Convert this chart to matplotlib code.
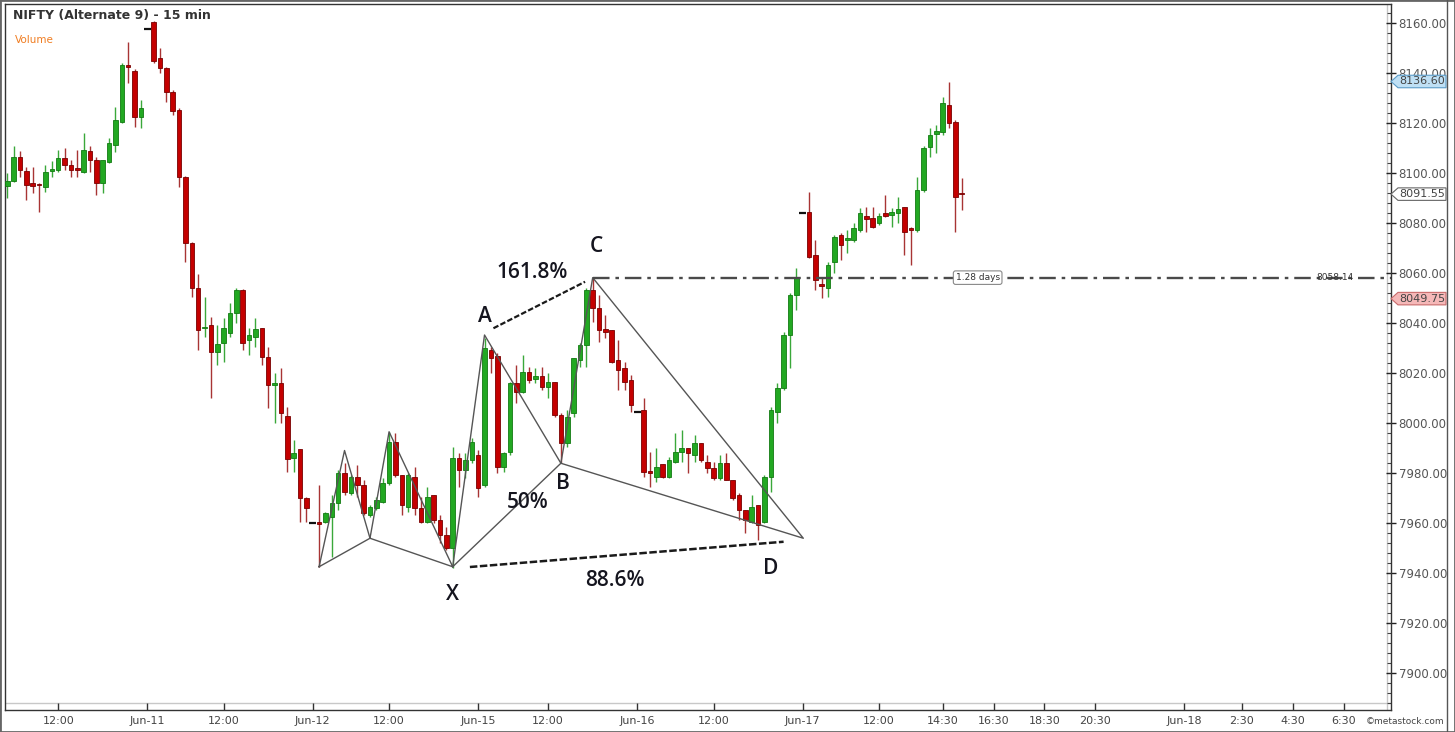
import matplotlib.pyplot as plt
import matplotlib.transforms as mtransforms
import numpy as np
from matplotlib.lines import Line2D
from matplotlib.patches import Polygon, Rectangle
from matplotlib.ticker import FormatStrFormatter

plt.rcParams['font.family'] = ['DejaVu Sans']

# 15 min bars, tail of Jun-10 .. Jun-17 (one entry per bar)
opens = [8095, 8097, 8106.5, 8100.8, 8095.9, 8095.4, 8094.5, 8101, 8101.2, 8105.9, 8103.2, 8101.8, 8100.5, 8108.9, 8105.2, 8095.9, 8104.5, 8111.2, 8120.5, 8143.2, 8140.9, 8122.5,
         8157.5, 8160.5, 8145.9, 8141.9, 8132.5, 8125.2, 8098.5, 8071.9, 8053.9, 8037.9, 8039.2, 8028.5, 8031.9, 8035.9, 8043.9, 8053.2, 8033.2, 8034.5, 8037.9, 8026.5, 8015.2, 8015.9, 8002.8, 7985.9, 7989.5, 7969.9,
         7960, 7960.5, 7960.5, 7962.5, 7967.9, 7979.9, 7971.9, 7978.5, 7975.2, 7963.2, 7965.9, 7968.5, 7975.9, 7992.5, 7979.2, 7966.5, 7978.5, 7965.9, 7960.5, 7971.2, 7961.2, 7955.2, 7949.9, 7985.9, 7981.2, 7985.2,
         7987.2, 7975.2, 8029.2, 8026.8, 7982.5, 7988.5, 8015.9, 8012.5, 8020.5, 8017.5, 8018.8, 8014.5, 8016.5, 8003.2, 7991.9, 8003.9, 8025.2, 8031.2, 8053.2, 8045.9, 8037.5, 8037.2, 8025.2, 8021.9, 8017.2,
         8004.5, 8005.2, 7980.8, 7978.5, 7983.5, 7978.5, 7984.5, 7988.5, 7989.9, 7987.2, 7991.9, 7984.5, 7981.9, 7977.9, 7984.1, 7977.2, 7971.2, 7965.2, 7960.5, 7967.2, 7960.5, 7978.5, 8004.5, 8013.9, 8035.2, 8051.2,
         8084.1, 8084.5, 8067.2, 8055.6, 8053.9, 8064.5, 8075.2, 8073.2, 8073.2, 8077.2, 8082.8, 8081.9, 8079.9, 8083.9, 8083.2, 8083.9, 8086.5, 8078.1, 8077.2, 8093.2, 8110.5, 8115.7, 8116.5, 8127.2, 8120.5, 8091.8]
highs = [8100, 8110.8, 8109, 8102.5, 8102.5, 8096, 8103.2, 8105, 8109.2, 8109.9, 8105.2, 8109.2, 8115.9, 8110.8, 8106.5, 8105.2, 8113.9, 8126.3, 8143.9, 8152.5, 8141.5, 8129.2,
         8157.5, 8161, 8149.9, 8142.5, 8133.2, 8125.9, 8099, 8072.5, 8059.6, 8050.5, 8042.5, 8039.2, 8041.9, 8047.9, 8053.9, 8053.5, 8037.9, 8041.9, 8037.9, 8030.5, 8019.9, 8021.9, 8006.5, 7993.2, 7989.5, 7970.5,
         7960, 7975.2, 7964.5, 7971.2, 7981.2, 7983.9, 7979.2, 7983.2, 7977.2, 7967.2, 7970.5, 7977.9, 7996.5, 7995.9, 7979.2, 7979.9, 7982.5, 7970.5, 7974.5, 7971.2, 7963.2, 7958.5, 7990.5, 7987.9, 7987.9, 7993.9,
         7989.2, 8033.9, 8030.5, 8027.9, 7988.5, 8016.5, 8023.2, 8027.2, 8022.5, 8021.9, 8022.5, 8019.9, 8016.5, 8003.9, 8005.2, 8025.9, 8031.9, 8053.9, 8058.1, 8051.2, 8043.2, 8037.2, 8033.2, 8024.5, 8019.2,
         8004.5, 8009.9, 7988.5, 7989.9, 7983.5, 7986.5, 7995.9, 7997.2, 7989.9, 7995.2, 7991.9, 7987.2, 7984.5, 7987.2, 7987.9, 7977.2, 7971.9, 7965.2, 7971.2, 7967.2, 7979.2, 8006.5, 8015.9, 8036.5, 8051.9, 8061.9,
         8084.1, 8092.5, 8073.2, 8058.5, 8064.5, 8075.2, 8075.9, 8077.2, 8079.9, 8085.9, 8086.5, 8086.5, 8083.9, 8091.2, 8085.9, 8090.5, 8086.5, 8078.5, 8098.5, 8110.8, 8117.9, 8119.2, 8130.5, 8136.6, 8121.2, 8097.9]
lows = [8090, 8096.5, 8098.5, 8089.2, 8091.9, 8084.5, 8092.5, 8098.5, 8100.5, 8101.2, 8098.5, 8098.5, 8099.9, 8100.5, 8091.2, 8091.9, 8103.9, 8108.5, 8119.9, 8135.9, 8118.5, 8117.9,
        8157.5, 8144, 8139.9, 8128.5, 8123.2, 8094.5, 8064.5, 8050.5, 8029.2, 8034.5, 8009.9, 8023.2, 8024.5, 8034.5, 8039.9, 8029.2, 8027.2, 8030.5, 8023.2, 8005.9, 7999.9, 7999.9, 7980.5, 7980.5, 7960.5, 7960.5,
        7960, 7942.5, 7960, 7946.5, 7965.2, 7971.2, 7971.2, 7970.5, 7963.2, 7962.5, 7965.2, 7967.9, 7975.2, 7978.5, 7963.2, 7964.5, 7963.2, 7959.9, 7959.9, 7959.9, 7951.9, 7949.2, 7941.9, 7974.5, 7977.9, 7983.9,
        7970.5, 7974.5, 8019.9, 7979.9, 7980.5, 7987.2, 8007.9, 8011.9, 8015.9, 8015.9, 8013.2, 8009.9, 8002.5, 7983.9, 7990.5, 8002.5, 8022.5, 8022.5, 8040.5, 8032.5, 8033.9, 8023.9, 8013.2, 8013.2, 8004.5,
        8004.5, 7978.5, 7974.5, 7976.5, 7977.9, 7977.9, 7983.9, 7984.5, 7979.9, 7984.5, 7984.5, 7979.9, 7977.2, 7977.2, 7977.2, 7969.2, 7961.2, 7955.9, 7959.9, 7953.2, 7959.9, 7972.5, 7999.9, 8013.2, 8021.9, 8045.2,
        8084.1, 8065.9, 8053.2, 8049.9, 8050.5, 8059.9, 8065.2, 8067.9, 8072.5, 8076.5, 8076.5, 8077.9, 8079.2, 8082.5, 8078.5, 8079.9, 8067.2, 8063.2, 8076.5, 8092.5, 8106.5, 8107.9, 8115.2, 8117.9, 8076.5, 8085.2]
closes = [8097, 8106.5, 8101.2, 8095.2, 8095, 8095.1, 8100.5, 8101.5, 8105.9, 8103.2, 8101.2, 8101.2, 8109.2, 8105.2, 8096.1, 8105.2, 8111.9, 8121.2, 8143.2, 8142.3, 8122.5, 8125.9,
          8157.5, 8145, 8141.9, 8132.5, 8124.9, 8098.5, 8072, 8053.9, 8037.2, 8038.5, 8028.5, 8031.6, 8037.9, 8043.9, 8053.2, 8032.1, 8035.2, 8037.5, 8026.3, 8015.2, 8016.1, 8003.9, 7985.5, 7987.9, 7969.9, 7965.9,
          7960, 7959.5, 7963.9, 7967.9, 7979.9, 7972.5, 7978.5, 7975.2, 7963.9, 7966.3, 7969.2, 7975.9, 7992.5, 7979.2, 7967.2, 7979.2, 7965.9, 7960.5, 7970.5, 7961.2, 7955.2, 7949.9, 7985.9, 7981.2, 7985.2, 7992.5,
          7973.9, 8029.9, 8025.9, 7982.5, 7987.9, 8015.9, 8012.5, 8020.5, 8017.2, 8018.8, 8014.5, 8016.5, 8003.2, 7991.9, 8002.5, 8025.9, 8031.2, 8053.2, 8045.9, 8037.2, 8036.5, 8024.5, 8021.2, 8016.5, 8007.2,
          8004.5, 7980.5, 7979.9, 7982.5, 7978.5, 7985.2, 7988.5, 7989.9, 7987.9, 7991.9, 7985.2, 7981.9, 7977.9, 7984.1, 7977.2, 7969.9, 7965.2, 7961.2, 7966.5, 7959.2, 7978.5, 8005.2, 8013.9, 8035.2, 8051.2, 8058.5,
          8084.1, 8066.5, 8057.2, 8054.8, 8063.2, 8074.5, 8071.2, 8073.9, 8077.9, 8083.9, 8081.5, 8078.5, 8082.8, 8082.8, 8084.5, 8085.5, 8076.5, 8077.2, 8093.2, 8110.2, 8115.2, 8116.6, 8127.9, 8119.9, 8090.5, 8091.55]

# time axis labels (bar number they sit on)
xtick_pos = [8, 22, 34, 48, 60, 74, 85, 99, 111, 125, 137, 147, 155, 163, 171, 185, 194, 202, 210]
xtick_labels = ['12:00', 'Jun-11', '12:00', 'Jun-12', '12:00', 'Jun-15', '12:00', 'Jun-16', '12:00',
                'Jun-17', '12:00', '14:30', '16:30', '18:30', '20:30', 'Jun-18', '2:30', '4:30', '6:30']

# small swings before X
swing_bar = [49, 53, 57, 60, 70]
swing_price = [7942.5, 7989.0, 7953.9, 7996.5, 7942.5]

# XABCD points
pt_names = ['X', 'A', 'B', 'C', 'D']
pt_bar = [70, 75, 87, 92, 125.1]
pt_price = [7942.5, 8035.2, 7983.9, 8058.14, 7953.9]
pt_label_bar = [70, 75.1, 87.3, 92.5, 120]
pt_label_price = [7931.2, 8042.8, 7975.6, 8070.8, 7942]

# ratio lines and texts
ac_bar = [76.4, 90.8]
ac_price = [8037.9, 8056.5]
xd_bar = [72.7, 122.0]
xd_price = [7942.4, 7952.5]
ratio_text = ['161.8%', '50%', '88.6%']
ratio_bar = [82.5, 81.8, 95.5]
ratio_price = [8060.4, 7968, 7936.8]

c_level = 8058.14
level_start = 92
marker_values = [8136.60, 8091.55, 8049.75]
marker_face = ['#bfe0f5', '#ffffff', '#f5b8b8']
marker_edge = ['#5b9cc8', '#666666', '#c86a6a']

W, H = 1455, 732
left_px, right_px, top_px, bot_px = 5, 1391, 4, 710
bar_px0, bar_step = 7.3, 6.363

fig = plt.figure(figsize=(W / 100, H / 100), dpi=100)
ax = fig.add_axes([left_px / W, 1 - bot_px / H, (right_px - left_px) / W, (bot_px - top_px) / H])
ax.set_xlim((left_px - bar_px0) / bar_step, (right_px - bar_px0) / bar_step)
ax.set_ylim(8160 - (bot_px - 23) / 2.5, 8160 + (23 - top_px) / 2.5)

o = np.array(opens)
h = np.array(highs)
l = np.array(lows)
c = np.array(closes)
idx = np.arange(len(o))
up = c > o
dn = c < o
flat = c == o

ax.vlines(idx[up], l[up], h[up], color='#3aa83a', lw=1, zorder=2)
ax.vlines(idx[dn], l[dn], h[dn], color='#a83434', lw=1, zorder=2)
ax.bar(idx[up], np.maximum(c - o, 0.6)[up], bottom=o[up], width=0.72,
       color='#22a822', edgecolor='#127a12', lw=0.6, zorder=3)
ax.bar(idx[dn], np.maximum(o - c, 0.6)[dn], bottom=c[dn], width=0.72,
       color='#c40000', edgecolor='#780000', lw=0.6, zorder=3)
ax.hlines(c[flat], idx[flat] - 0.55, idx[flat] + 0.55, color='#111111', lw=1.6, zorder=3)

# pattern triangles
line_kw = dict(color='#555555', lw=1.0, zorder=4)
sb, sp = swing_bar, swing_price
ax.plot([sb[0], sb[1], sb[2], sb[0]], [sp[0], sp[1], sp[2], sp[0]], **line_kw)
ax.plot([sb[2], sb[3], sb[4], sb[2]], [sp[2], sp[3], sp[4], sp[2]], **line_kw)
pb, pp = pt_bar, pt_price
ax.plot([pb[0], pb[1], pb[2], pb[0]], [pp[0], pp[1], pp[2], pp[0]], **line_kw)
ax.plot([pb[2], pb[3], pb[4], pb[2]], [pp[2], pp[3], pp[4], pp[2]], **line_kw)

ax.plot(ac_bar, ac_price, color='#1a1a1a', lw=1.6, ls=(0, (2.5, 1)), zorder=4)
ax.plot(xd_bar, xd_price, color='#1a1a1a', lw=1.8, ls=(0, (3, 1)), zorder=4)

# C level line
xmax = ax.get_xlim()[1]
ax.plot([level_start, xmax], [c_level, c_level], color='#4a4a4a', lw=1.7,
        ls=(0, (7, 2.5, 1.5, 2.5)), zorder=4, clip_on=False)
ax.text(152.5, c_level, '1.28 days', fontsize=6.5, color='#333333', ha='center', va='center', zorder=6,
        bbox=dict(boxstyle='round,pad=0.25', fc='white', ec='#888888', lw=0.8))
ax.text(208.7, c_level, '%.2f' % c_level, fontsize=6.5, color='#333333', ha='center', va='center', zorder=6)

label_font = dict(family=['Open Sans', 'DejaVu Sans'], fontsize=15, fontweight='semibold', color='#15151f',
                  ha='center', va='center', zorder=6)
for name, xb, yp in zip(pt_names, pt_label_bar, pt_label_price):
    ax.text(xb, yp, name, **label_font)
for txt, xb, yp in zip(ratio_text, ratio_bar, ratio_price):
    ax.text(xb, yp, txt, **label_font)

# axes styling
for s in ax.spines.values():
    s.set_color('#333333')
    s.set_linewidth(1.0)
ax.axhline(8160 - (703 - 23) / 2.5, color='#c8c8c8', lw=1, zorder=1)
ax.axvline((1387 - bar_px0) / bar_step, color='#c8c8c8', lw=1, zorder=1)

ax.yaxis.tick_right()
ax.set_yticks(np.arange(7900, 8161, 20))
ax.set_yticks(np.arange(7888, 8168, 4), minor=True)
ax.yaxis.set_major_formatter(FormatStrFormatter('%.2f'))
ax.tick_params(axis='y', which='major', direction='inout', length=7, width=1, color='#222222',
               labelcolor='#555555', labelsize=8.5, pad=2)
ax.tick_params(axis='y', which='minor', direction='in', length=3, width=0.8, color='#444444')
ax.set_xticks(xtick_pos)
ax.set_xticklabels(xtick_labels)
ax.tick_params(axis='x', direction='in', length=5, width=1, color='#333333',
               labelcolor='#444444', labelsize=8, pad=4)

# price flags on the right axis
trans = mtransforms.blended_transform_factory(ax.transAxes, ax.transData)
aw = right_px - left_px
for val, fc, ec in zip(marker_values, marker_face, marker_edge):
    x_tip, x_sh, x_end = 1.0, 1 + 7 / aw, 1 + 55 / aw
    hh = 2.5
    poly = Polygon([(x_tip, val), (x_sh, val + hh), (x_end, val + hh), (x_end, val - hh), (x_sh, val - hh)],
                   closed=True, fc=fc, ec=ec, lw=0.8, transform=trans, clip_on=False, zorder=10)
    ax.add_patch(poly)
    ax.text(1 + 31 / aw, val, '%.2f' % val, transform=trans, fontsize=8, color='#444444',
            ha='center', va='center', zorder=11, clip_on=False)

fig.text(13 / W, 1 - 15 / H, 'NIFTY (Alternate 9) - 15 min', fontsize=9, fontweight='bold',
         color='#333333', va='center', ha='left')
fig.text(15 / W, 1 - 40 / H, 'Volume', fontsize=7.5, color='#f07d22', va='center', ha='left')
fig.text(1405 / W, 1 - 721 / H, '\u00a9metastock.com', fontsize=6.5, color='#444444', va='center', ha='center',
         bbox=dict(fc='white', ec='none', pad=0.5))

fig.add_artist(Line2D([1447 / W, 1447 / W], [0, 1], color='#555555', lw=1))
fig.add_artist(Rectangle((0, 0), 1, 1, transform=fig.transFigure, fill=False, ec='#666666', lw=2))

fig.savefig('out.png', dpi=100)
